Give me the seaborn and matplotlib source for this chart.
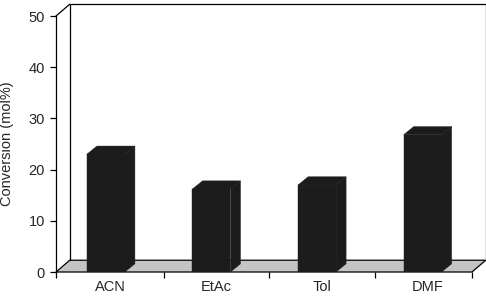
import matplotlib
matplotlib.use("Agg")
import matplotlib.pyplot as plt
import seaborn as sns
import pandas as pd
from matplotlib.patches import Polygon

categories = ["ACN", "EtAc", "Tol", "DMF"]
conversion = [23.0, 16.2, 17.0, 26.8]
yticks = [0, 10, 20, 30, 40, 50]

sns.set_theme(style="white")
plt.rcParams["font.family"] = ["Liberation Sans", "DejaVu Sans"]

fig = plt.figure(figsize=(4.86, 2.97), dpi=100)
ax = fig.add_axes([56/486, 25/297, 416/486, 256/297])

df = pd.DataFrame({"cat": categories, "val": conversion})
bar_color = "#1c1c1c"
sns.barplot(data=df, x="cat", y="val", color=bar_color, width=0.36,
            saturation=1, ax=ax, zorder=3, edgecolor=bar_color, linewidth=0.3)

xl, xr = -0.52, 3.42
ax.set_xlim(xl, xr)
ax.set_ylim(0, 50)

# depth offsets (data units)
wdx, wdy = 0.13, 2.3      # wall / floor depth
bdx, bdy = 0.095, 1.6     # bar depth

# floor
floor = Polygon([(xl, 0), (xr, 0), (xr + wdx, wdy), (xl + wdx, wdy)],
                closed=True, facecolor="#c4c4c4", edgecolor="black",
                linewidth=0.9, zorder=1, clip_on=False)
ax.add_patch(floor)

# walls
lk = dict(color="black", linewidth=0.9, zorder=1, clip_on=False)
ax.plot([xl + wdx, xl + wdx], [wdy, 50 + wdy], **lk)
ax.plot([xl, xl + wdx], [50, 50 + wdy], **lk)
ax.plot([xl + wdx, xr + wdx], [50 + wdy, 50 + wdy], **lk)
ax.plot([xr + wdx, xr + wdx], [wdy, 50 + wdy], **lk)

# 3D bar tops and sides
bars = [p for p in ax.patches if p is not floor]
for p in bars:
    p.set_x(p.get_x() - bdx / 2)
    x0, w, h = p.get_x(), p.get_width(), p.get_height()
    x1 = x0 + w
    top = Polygon([(x0, h), (x1, h), (x1 + bdx, h + bdy), (x0 + bdx, h + bdy)],
                  closed=True, facecolor=bar_color, edgecolor=bar_color,
                  linewidth=0.3, zorder=3)
    side = Polygon([(x1, 0), (x1 + bdx, bdy), (x1 + bdx, h + bdy), (x1, h)],
                   closed=True, facecolor=bar_color, edgecolor=bar_color,
                   linewidth=0.3, zorder=3)
    ax.add_patch(top)
    ax.add_patch(side)

for s in ["top", "right", "bottom"]:
    ax.spines[s].set_visible(False)
ax.spines["left"].set_color("black")
ax.spines["left"].set_linewidth(0.9)
ax.spines["left"].set_zorder(2)

ax.set_yticks(yticks)
ax.set_yticklabels([str(v) for v in yticks], fontsize=10.5)
ax.tick_params(axis="y", which="major", direction="out", length=4, width=0.9,
               color="black", pad=4, left=True)

ax.set_xticks([xl, 0.5, 1.5, 2.5, xr])
ax.set_xticklabels([])
ax.set_xticks(range(len(categories)), minor=True)
ax.set_xticklabels(categories, minor=True, fontsize=10.5)
ax.tick_params(axis="x", which="major", direction="out", length=4, width=0.9,
               color="black", bottom=True)
ax.tick_params(axis="x", which="minor", length=0, pad=6, bottom=True)

ax.set_xlabel("")
ax.set_ylabel("Conversion (mol%)", fontsize=10.5)
ax.yaxis.set_label_coords(-0.10, 0.5)

fig.savefig("out.png", dpi=100)
